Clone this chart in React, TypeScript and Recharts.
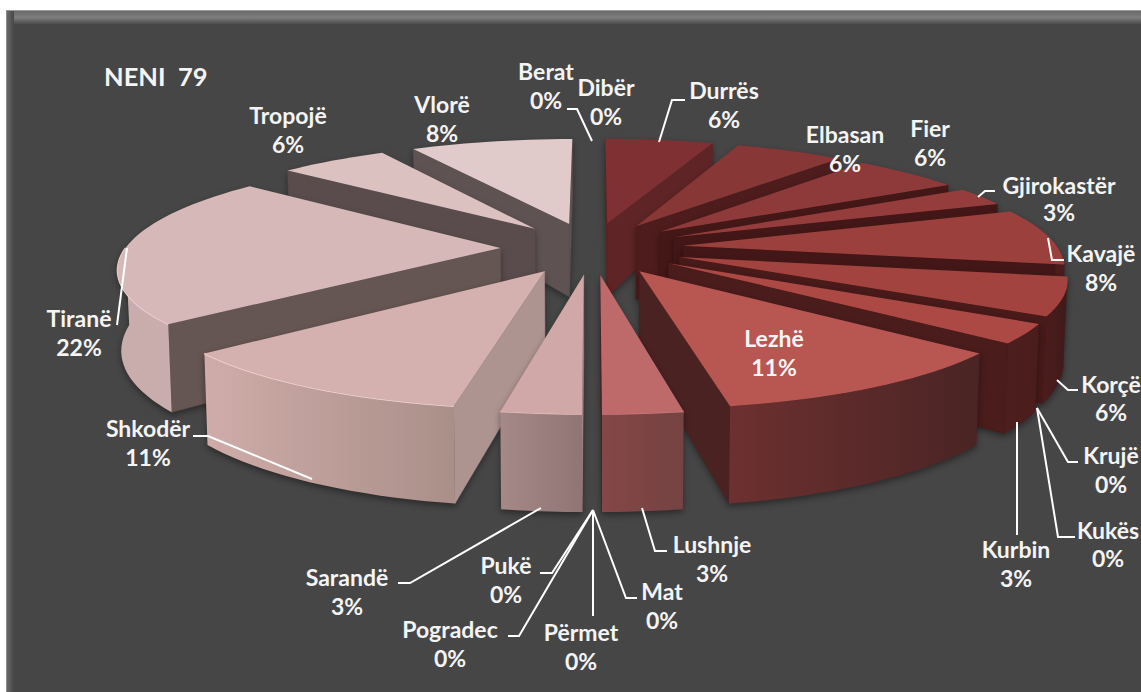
import React from "react";
import { Pie, PieChart } from "recharts";

const categories = [
  "Berat", "Dibër", "Durrës", "Elbasan", "Fier", "Gjirokastër", "Kavajë", "Korçë",
  "Krujë", "Kukës", "Kurbin", "Lezhë", "Lushnje", "Mat", "Përmet", "Pogradec",
  "Pukë", "Sarandë", "Shkodër", "Tiranë", "Tropojë", "Vlorë",
];
const counts = [0, 0, 2, 2, 2, 1, 3, 2, 0, 0, 1, 4, 1, 0, 0, 0, 0, 1, 4, 8, 2, 3];

const total = counts.reduce((a, b) => a + b, 0);
const rows = categories.map((name, i) => ({ name, value: counts[i] }));
// right half runs clockwise, left half counter-clockwise, so both paint back to front
const rightRows = rows.slice(0, 15);
const leftRows = rows.slice(15).reverse();

// [top face, radial wall, rim left, rim right, rim highlight]
const sliceColors: Record<string, string[]> = {
  Durrës: ["#7f3033", "#5f2426", "#4a1c1c", "#4a1c1c", "none"],
  Elbasan: ["#873735", "#4e1c1c", "#4a1c1c", "#4a1c1c", "none"],
  Fier: ["#8e3a3a", "#451818", "#4a1c1c", "#4a1c1c", "none"],
  Gjirokastër: ["#943d3c", "#431717", "#4a1c1c", "#4a1c1c", "none"],
  Kavajë: ["#9c403e", "#431717", "#4a1c1c", "#4a1c1c", "none"],
  Korçë: ["#a3433f", "#481a1a", "#4a1c1c", "#3f1a1a", "none"],
  Kurbin: ["#ac4945", "#4a1c1c", "#4d1e1e", "#4a1c1c", "none"],
  Lezhë: ["#b85752", "#4a2222", "#6d3030", "#4a2424", "none"],
  Lushnje: ["#bf6a6a", "#4a2222", "#854646", "#744342", "#c97b7b"],
  Sarandë: ["#d1a8a8", "#a58686", "#a58888", "#917575", "#e8bfbf"],
  Shkodër: ["#d4b0ae", "#ae9490", "#cfaca9", "#aa8f89", "#f4d5d5"],
  Tiranë: ["#d6b8b8", "#655553", "#c9adad", "#cbaeae", "#f4d5d5"],
  Tropojë: ["#dcc1c1", "#5a4c4c", "#8a7676", "#8a7676", "none"],
  Vlorë: ["#e0caca", "#5f5252", "#8a7676", "#8a7676", "none"],
};

// label anchor: centre x, baseline of name, baseline of percent
const labelSpots: Record<string, number[]> = {
  Berat: [546, 80, 109],
  Dibër: [606, 96, 125],
  Durrës: [724, 99, 128],
  Elbasan: [845, 143, 172],
  Fier: [930, 137, 166],
  Gjirokastër: [1059, 194, 221],
  Kavajë: [1101, 262, 291],
  Korçë: [1111, 393, 421],
  Krujë: [1111, 464, 493],
  Kukës: [1108, 539, 567],
  Kurbin: [1016, 558, 587],
  Lezhë: [774, 347, 376],
  Lushnje: [712, 553, 582],
  Mat: [662, 600, 629],
  Përmet: [581, 641, 670],
  Pogradec: [450, 638, 667],
  Pukë: [506, 574, 603],
  Sarandë: [347, 586, 615],
  Shkodër: [148, 437, 466],
  Tiranë: [79, 327, 356],
  Tropojë: [288, 124, 153],
  Vlorë: [442, 113, 142],
};

const leaderLines: Record<string, string> = {
  Berat: "567,109 577,109 592,141",
  Durrës: "659,142 672,100 685,100",
  Gjirokastër: "978,197 985,191 995,191",
  Kavajë: "1048,238 1052,260 1064,260",
  Korçë: "1057,380 1068,390 1078,390",
  Krujë: "1037,408 1068,462 1078,462",
  Kukës: "1037,408 1058,537 1075,537",
  Kurbin: "1017,422 1017,535",
  Lushnje: "642,508 655,551 667,551",
  Mat: "593,510 626,598 637,598",
  Përmet: "593,510 593,616",
  Pogradec: "593,510 519,636 508,636",
  Pukë: "593,510 552,573 540,573",
  Sarandë: "541,508 410,583 398,583",
  Shkodër: "193,436 208,436 312,479",
  Tiranë: "127,248 117,325",
};

const EXPLODE = 0.244;
const TILT = 0.283;
const PERSPECTIVE = 0.165;
const FONT = "Lato, 'Open Sans', sans-serif";

const Slice3D = (props: any) => {
  const { cx, cy, outerRadius: R, startAngle, endAngle, name } = props;
  if (startAngle === endAngle) return null;
  const colors = sliceColors[name];
  const rad = Math.PI / 180;
  const mid = ((startAngle + endAngle) / 2) * rad;

  const top = (r: number, deg: number) => {
    const px = r * Math.cos(deg * rad) + EXPLODE * Math.cos(mid);
    const py = -(r * Math.sin(deg * rad) + EXPLODE * Math.sin(mid));
    const f = 1 / (1 - PERSPECTIVE * py);
    return { x: cx + R * px * f, y: cy + R * TILT * py * f, py };
  };
  const drop = (p: { x: number; y: number; py: number }) => ({
    x: cx + (p.x - cx) * 0.992,
    y: p.y + 77 + 17 * p.py,
    py: p.py,
  });
  const path = (pts: { x: number; y: number }[]) =>
    "M" + pts.map((p) => `${p.x.toFixed(1)},${p.y.toFixed(1)}`).join("L") + "Z";

  const steps = Math.max(4, Math.ceil(Math.abs(endAngle - startAngle) / 2));
  const angles = Array.from({ length: steps + 1 }, (_, i) => startAngle + ((endAngle - startAngle) * i) / steps);
  const arc = angles.map((a) => top(1, a));
  const apex = top(0, 0);
  const face = [apex, ...arc];
  const cen = {
    x: face.reduce((s, p) => s + p.x, 0) / face.length,
    y: face.reduce((s, p) => s + p.y, 0) / face.length,
  };

  const wallShows = (b: { x: number; y: number }) => {
    if (Math.abs(b.x - apex.x) < 1) return false;
    const t = (cen.x - apex.x) / (b.x - apex.x);
    return apex.y + t * (b.y - apex.y) > cen.y;
  };
  const ends = [arc[0], arc[arc.length - 1]];
  const rimArc = angles.filter((a) => Math.sin(a * rad) < 0.03).map((a) => top(1, a));
  const gid = `rim-${categories.indexOf(name)}`;
  const xs = arc.map((p) => p.x);

  return (
    <g style={{ filter: "drop-shadow(0 3px 3px rgba(0,0,0,0.4))" }}>
      <defs>
        <linearGradient id={gid} gradientUnits="userSpaceOnUse" x1={Math.min(...xs)} x2={Math.max(...xs)} y1={0} y2={0}>
          <stop offset="0" stopColor={colors[2]} />
          <stop offset="1" stopColor={colors[3]} />
        </linearGradient>
      </defs>
      {ends.filter(wallShows).map((b, i) => (
        <path
          key={i}
          d={path([apex, b, drop(b), drop(apex)])}
          fill={colors[1]}
          stroke={colors[1]}
          strokeWidth={0.5}
        />
      ))}
      {rimArc.length > 1 && (
        <>
          <path d={path([...rimArc, ...rimArc.map(drop).reverse()])} fill={`url(#${gid})`} />
          <path
            d={"M" + rimArc.map((p) => `${p.x.toFixed(1)},${p.y.toFixed(1)}`).join("L")}
            fill="none"
            stroke={colors[4]}
            strokeWidth={1.5}
          />
        </>
      )}
      <path d={path(face)} fill={colors[0]} />
    </g>
  );
};

const labelText = (props: any) => {
  const { name, value } = props;
  const [x, y1, y2] = labelSpots[name];
  const common = {
    x,
    textAnchor: "middle" as const,
    fontFamily: FONT,
    fontWeight: 700,
    fontSize: 23,
    fill: "#f4f4f4",
  };
  return (
    <g key={name}>
      {leaderLines[name] && (
        <polyline points={leaderLines[name]} fill="none" stroke="#ffffff" strokeWidth={2} />
      )}
      <text {...common} y={y1}>{name}</text>
      <text {...common} y={y2}>{`${Math.round((value / total) * 100)}%`}</text>
    </g>
  );
};

const App = () => (
  <div style={{ position: "absolute", left: 0, top: 0, width: 1141, height: 692, background: "#ffffff", overflow: "hidden" }}>
    <div
      style={{
        position: "absolute",
        left: 6,
        top: 10,
        width: 1135,
        height: 682,
        background: "#464646",
        boxSizing: "border-box",
        borderTop: "1px solid #9a9a9a",
        borderLeft: "1px solid #8a8a8a",
      }}
    >
      <div style={{ position: "absolute", left: 0, right: 0, top: 0, height: 13, background: "linear-gradient(#6a6a6a, #7d7d7d 50%, #4c4c4c)" }} />
      <div style={{ position: "absolute", left: 0, top: 0, bottom: 0, width: 7, background: "linear-gradient(90deg, #6a6a6a, #464646)" }} />
    </div>
    <div style={{ position: "absolute", left: 0, top: 0 }}>
      <PieChart width={1141} height={692} margin={{ top: 0, right: 0, bottom: 0, left: 0 }}>
        <Pie
          data={rightRows}
          dataKey="value"
          nameKey="name"
          cx={592}
          cy={248}
          outerRadius={375}
          startAngle={90}
          endAngle={-90}
          shape={Slice3D}
          label={labelText}
          labelLine={false}
          isAnimationActive={false}
        />
        <Pie
          data={leftRows}
          dataKey="value"
          nameKey="name"
          cx={592}
          cy={248}
          outerRadius={375}
          startAngle={90}
          endAngle={270}
          shape={Slice3D}
          label={labelText}
          labelLine={false}
          isAnimationActive={false}
        />
        <text x={104} y={86} fontFamily={FONT} fontWeight={700} fontSize={25.5} fill="#f4f4f4" xmlSpace="preserve">
          NENI  79
        </text>
      </PieChart>
    </div>
  </div>
);

export default App;
